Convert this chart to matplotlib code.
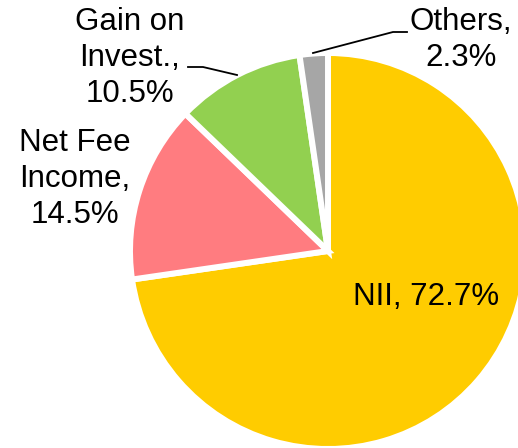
import matplotlib
matplotlib.use("Agg")
import matplotlib.pyplot as plt

# ---- data ----
labels = ["NII", "Net Fee\nIncome", "Gain on\nInvest.", "Others"]
shares = [72.7, 14.5, 10.5, 2.3]
colors = ["#FFCC00", "#FF7C80", "#92D050", "#A6A6A6"]

plt.rcParams["font.family"] = ["Liberation Sans", "DejaVu Sans"]

W, H = 518, 448
fig = plt.figure(figsize=(W / 100, H / 100), dpi=100)
ax = fig.add_axes([0, 0, 1, 1])

# pie drawn in pixel-like data units (y up)
cx, cy, r = 328, H - 251, 198
wedges, _ = ax.pie(shares, colors=colors, startangle=90, counterclock=False,
                   center=(cx, cy), radius=r,
                   wedgeprops=dict(edgecolor="white", linewidth=4.3))
ax.set_xlim(0, W)
ax.set_ylim(0, H)
ax.set_aspect("equal")
ax.axis("off")

fs = 22.5
txt = [f"{lab}, {val}%" for lab, val in zip(labels, shares)]

# NII label inside the slice
ax.text(426, H - 305, txt[0], ha="center", va="baseline", fontsize=fs)

# outside labels (line breaks to match the original)
ax.text(75, H - 179, "Net Fee\nIncome,\n14.5%", ha="center", va="center",
        fontsize=fs, linespacing=1.25)
ax.text(130, H - 58, "Gain on\nInvest.,\n10.5%", ha="center", va="center",
        fontsize=fs, linespacing=1.25)
ax.text(461, H - 40, "Others,\n2.3%", ha="center", va="center",
        fontsize=fs, linespacing=1.25)

# leader lines
ax.plot([188, 203, 237], [H - 67, H - 67, H - 75], color="black", lw=1.3)
ax.plot([313, 393, 407], [H - 53, H - 32, H - 32], color="black", lw=1.3)

fig.savefig("out.png", dpi=100)
